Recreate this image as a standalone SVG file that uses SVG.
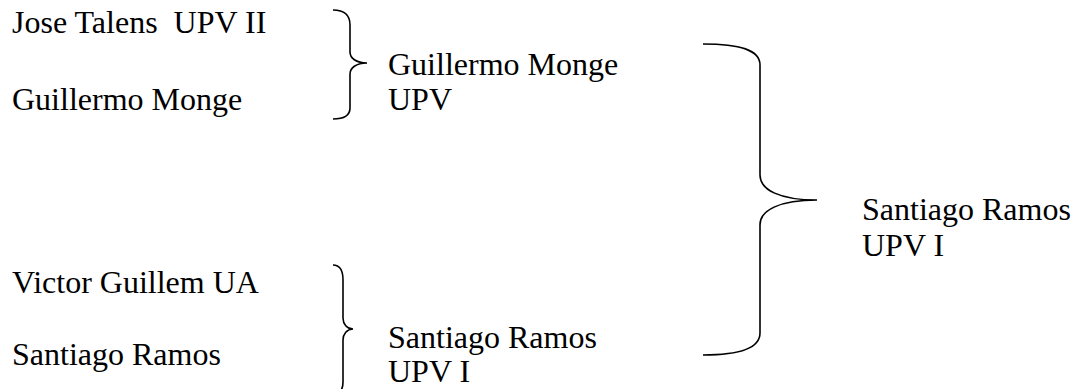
<svg xmlns="http://www.w3.org/2000/svg" width="1074" height="389" viewBox="0 0 1074 389">
<style>
text{font-family:"Liberation Serif","Times New Roman",serif;font-size:32px;fill:#000;white-space:pre}
.brace{fill:none;stroke:#000;stroke-width:1.6}
</style>
<rect width="1074" height="389" fill="#fff"/>
<g id="n-talens"><text x="12" y="33" xml:space="preserve">Jose Talens  UPV II</text></g>
<g id="n-monge"><text x="12" y="110">Guillermo Monge</text></g>
<g id="n-guillem"><text x="12" y="293">Victor Guillem UA</text></g>
<g id="n-ramos"><text x="12" y="365">Santiago Ramos</text></g>
<g id="n-monge-upv"><text x="388" y="75">Guillermo Monge<tspan x="388" dy="35">UPV</tspan></text></g>
<g id="n-ramos-upv"><text x="388" y="348">Santiago Ramos<tspan x="388" dy="34">UPV I</tspan></text></g>
<g id="n-final"><text x="862" y="220">Santiago Ramos<tspan x="862" dy="36">UPV I</tspan></text></g>
<g id="connectors">
<path class="brace" d="M333,10 C345,10 350,15 350,25 L350,52 C350,58 356,63 367,63 C356,63 350,68 350,74 L350,108 C350,115 345,119 333,119"/>
<path class="brace" d="M333,265 C340,265 343,270 343,280 L343,318 C343,324 347,329 353,329 C347,329 343,334 343,340 L343,382 C343,390 340,394 333,394"/>
<path class="brace" d="M703,44 C740,44 760,50 760,65 L760,175 C760,190 780,200 817,200 C780,200 760,210 760,225 L760,333 C760,348 740,355 703,355"/>
</g>
</svg>
